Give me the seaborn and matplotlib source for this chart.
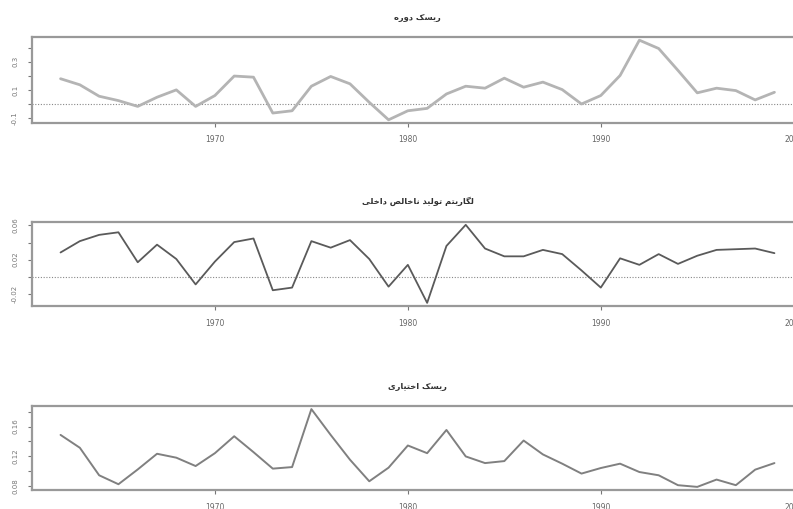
import numpy as np
import pandas as pd
import matplotlib
matplotlib.use("Agg")
import matplotlib.pyplot as plt
import seaborn as sns

# ---------------- data ----------------
years = list(range(1962, 2000))

period_risk = [0.179, 0.136, 0.055, 0.024, -0.017, 0.048, 0.100, -0.017, 0.060, 0.198,
               0.190, -0.064, -0.048, 0.126, 0.195, 0.143, 0.012, -0.112, -0.048, -0.031,
               0.071, 0.126, 0.112, 0.183, 0.119, 0.155, 0.102, 0.000, 0.060, 0.202,
               0.452, 0.393, 0.238, 0.079, 0.112, 0.095, 0.029, 0.083]

log_gdp = [0.0284, 0.0416, 0.0489, 0.0519, 0.0170, 0.0375, 0.0208, -0.0088, 0.0178, 0.0405,
           0.0447, -0.0156, -0.0125, 0.0416, 0.0340, 0.0428, 0.0208, -0.0114, 0.0140, -0.0303,
           0.0360, 0.0606, 0.0330, 0.0239, 0.0239, 0.0314, 0.0265, 0.0075, -0.0125, 0.0216,
           0.0140, 0.0265, 0.0151, 0.0246, 0.0314, 0.0322, 0.0330, 0.0276]

optional_risk = [0.1487, 0.1313, 0.0941, 0.0820, 0.1020, 0.1232, 0.1179, 0.1066, 0.1240, 0.1469,
                 0.1254, 0.1031, 0.1052, 0.1836, 0.1487, 0.1152, 0.0860, 0.1044, 0.1344, 0.1240,
                 0.1554, 0.1196, 0.1106, 0.1133, 0.1411, 0.1223, 0.1098, 0.0964, 0.1039, 0.1098,
                 0.0985, 0.0941, 0.0807, 0.0784, 0.0883, 0.0807, 0.1017, 0.1106]

titles = ["ریسک دوره", "لگاریتم تولید ناخالص داخلی", "ریسک اختیاری"]

x_ticks = [1970, 1980, 1990, 2000]
x_tick_labels = ["1970", "1980", "1990", "2000"]

y_ticks_1 = [-0.1, 0.0, 0.1, 0.2, 0.3, 0.4]
y_labels_1 = ["-0.1", "", "0.1", "", "0.3", ""]
y_ticks_2 = [-0.02, 0.0, 0.02, 0.04, 0.06]
y_labels_2 = ["-0.02", "", "0.02", "", "0.06"]
y_ticks_3 = [0.08, 0.10, 0.12, 0.14, 0.16, 0.18]
y_labels_3 = ["0.08", "", "0.12", "", "0.16", ""]

# ---------------- simple Persian shaping (matplotlib has no Arabic shaping) ----------------
FORMS = {
    'ر': ('\uFEAD', '\uFEAE', None, None),
    'ی': ('\uFBFC', '\uFBFD', '\uFBFE', '\uFBFF'),
    'س': ('\uFEB1', '\uFEB2', '\uFEB3', '\uFEB4'),
    'ک': ('\uFB8E', '\uFB8F', '\uFB90', '\uFB91'),
    'د': ('\uFEA9', '\uFEAA', None, None),
    'و': ('\uFEED', '\uFEEE', None, None),
    'ه': ('\uFEE9', '\uFEEA', '\uFEEB', '\uFEEC'),
    'ل': ('\uFEDD', '\uFEDE', '\uFEDF', '\uFEE0'),
    'گ': ('\uFB92', '\uFB93', '\uFB94', '\uFB95'),
    'ا': ('\uFE8D', '\uFE8E', None, None),
    'ت': ('\uFE95', '\uFE96', '\uFE97', '\uFE98'),
    'م': ('\uFEE1', '\uFEE2', '\uFEE3', '\uFEE4'),
    'ن': ('\uFEE5', '\uFEE6', '\uFEE7', '\uFEE8'),
    'خ': ('\uFEA5', '\uFEA6', '\uFEA7', '\uFEA8'),
    'ص': ('\uFEB9', '\uFEBA', '\uFEBB', '\uFEBC'),
}


def shape(text):
    out = []
    n = len(text)
    for i, ch in enumerate(text):
        if ch not in FORMS:
            out.append(ch)
            continue
        iso, fin, ini, med = FORMS[ch]
        prev = text[i - 1] if i > 0 else None
        nxt = text[i + 1] if i < n - 1 else None
        jp = prev in FORMS and FORMS[prev][2] is not None
        jn = nxt in FORMS and ini is not None
        out.append(med if (jp and jn) else fin if jp else ini if jn else iso)
    return "".join(out)[::-1]


# ---------------- plot ----------------
sns.set_style("white")
plt.rcParams['font.family'] = ['DejaVu Sans']

W, H = 793, 509
fig = plt.figure(figsize=(W / 100, H / 100), dpi=100)

panels = [
    (37, 123, period_risk, "#b4b4b4", 2.0, y_ticks_1, y_labels_1, True),
    (221.7, 306, log_gdp, "#5a5a5a", 1.3, y_ticks_2, y_labels_2, True),
    (406, 490, optional_risk, "#808080", 1.4, y_ticks_3, y_labels_3, False),
]

left_px, right_px = 32, 803
for (top, bot, series, col, lw, yt, yl, zero), title in zip(panels, titles):
    ax = fig.add_axes([left_px / W, 1 - bot / H, (right_px - left_px) / W, (bot - top) / H])
    df = pd.DataFrame({"year": years, "value": series})
    sns.lineplot(data=df, x="year", y="value", ax=ax, color=col, linewidth=lw)
    if zero:
        ax.axhline(0, color="#888888", lw=0.8, ls=(0, (1, 1.5)), zorder=1)
    ax.set_xlim(1960.52, 2000.48)
    vmin, vmax = min(series), max(series)
    r = vmax - vmin
    ax.set_ylim(vmin - 0.04 * r, vmax + 0.04 * r)
    ax.set_xticks(x_ticks)
    ax.set_xticklabels(x_tick_labels)
    ax.set_yticks(yt)
    ax.set_yticklabels(yl, rotation=90, va="center")
    ax.set_xlabel("")
    ax.set_ylabel("")
    ax.tick_params(axis="x", length=3, width=0.8, color="#777777", labelsize=5.5,
                   labelcolor="#666666", pad=6, bottom=True)
    ax.tick_params(axis="y", length=3, width=0.8, color="#777777", labelsize=5,
                   labelcolor="#777777", pad=7, left=True)
    for s in ax.spines.values():
        s.set_color("#999999")
        s.set_linewidth(1.6)
    ax.set_title(shape(title), fontsize=6, fontweight="bold", color="#333333",
                 pad=12.5, family=["DejaVu Sans"])

fig.savefig("out.png", dpi=100)
